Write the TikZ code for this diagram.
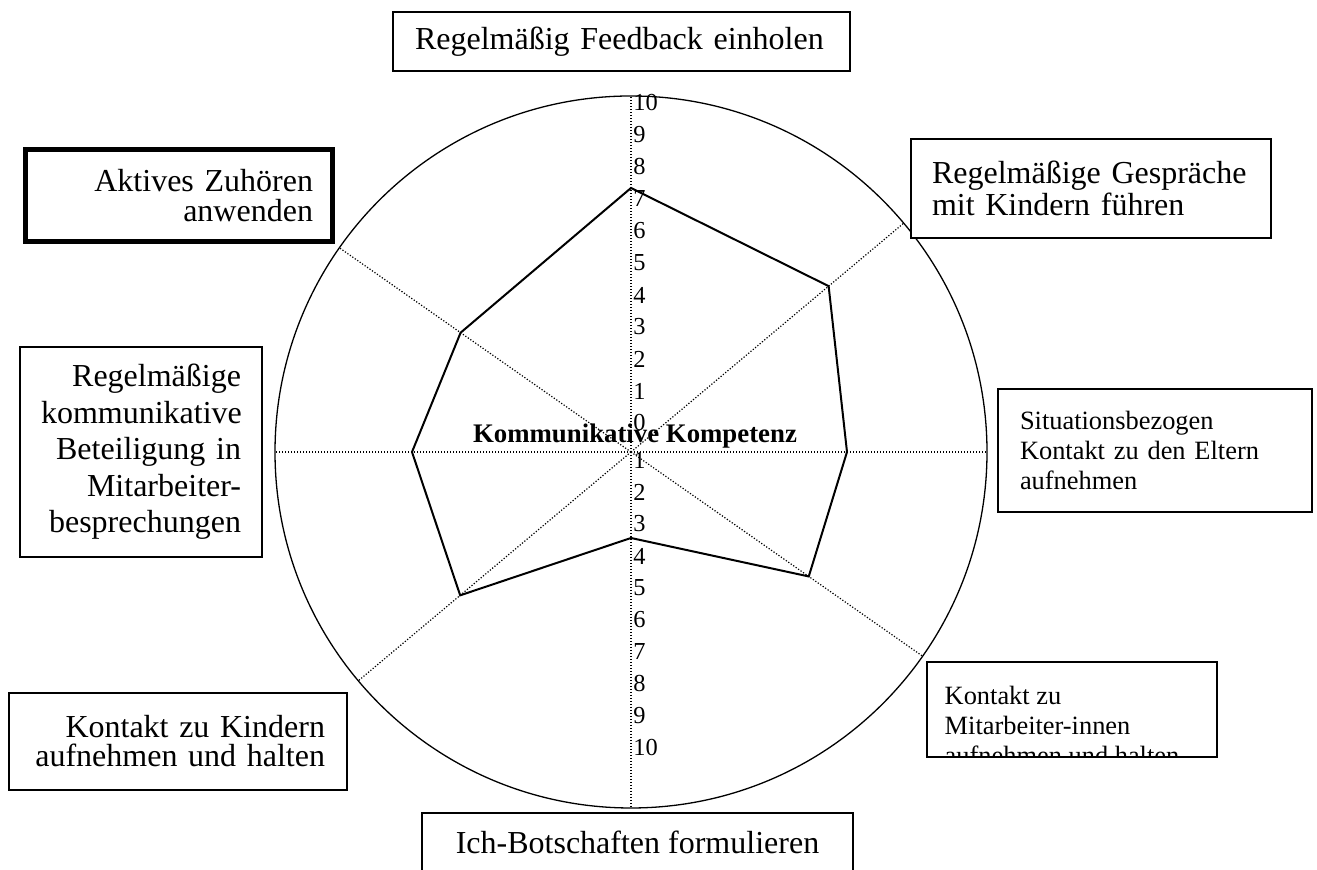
\documentclass[tikz,border=0pt]{standalone}
\usepackage{fontspec}
\setmainfont{Liberation Serif}
\usepackage{xcolor}
\definecolor{cInk}{HTML}{000000}
\usetikzlibrary{positioning,calc}
\tikzset{
  node-box/.style={draw=cInk,line width=0.7pt,fill=white,inner ysep=0pt,
    font=\fontsize{16}{#1}\selectfont,
    execute at begin node={\hyphenpenalty=10000\exhyphenpenalty=10000}},
  node-box/.default=16pt,
  node-small/.style={font=\fontsize{13.2}{15}\selectfont},
  node-num/.style={font=\fontsize{12.2}{14}\selectfont,inner sep=0pt,anchor=west},
  % Kreis, Achsen (gepunktet) und Profil
  rim/.style={draw=cInk,line width=0.65pt},
  axis-line/.style={draw=cInk,line width=0.6pt,dash pattern=on 0.6pt off 0.9pt},
  profile/.style={draw=cInk,line width=1pt,line join=miter},
}

\begin{document}
\begin{tikzpicture}[x=0.5pt,y=0.5pt]
  \clip (0,0) rectangle (1317,870);
  \coordinate (c) at (631,418);
  \draw[rim] (c) circle[radius=356];
  \foreach \a in {0,40,90,145,180,220,270,325}
    \draw[axis-line] (c) -- ++(\a:356);
  \path (c) ++(90:264) coordinate (p1)  (c) ++(40:258) coordinate (p2)
        (c) ++(0:216) coordinate (p3)   (c) ++(325:217) coordinate (p4)
        (c) ++(270:86) coordinate (p5)  (c) ++(220:223) coordinate (p6)
        (c) ++(180:219) coordinate (p7) (c) ++(145:208) coordinate (p8);
  \draw[profile] (p1) -- (p2) -- (p3) -- (p4) -- (p5) -- (p6) -- (p7) -- (p8) -- cycle;

  \foreach \i in {0,...,10}
    \node[node-num] (up-\i) at (633,447+32*\i) {\i};
  \foreach \i in {1,...,10}
    \node[node-num] (down-\i) at (633,442-32*\i) {\i};
  \node[font=\fontsize{13.4}{16}\selectfont\bfseries,inner sep=0pt] (title) at (635,434) {Kommunikative Kompetenz};

  \node[node-box,minimum width=228.5pt,minimum height=29.5pt,inner xsep=11pt,
    text width=206.5pt,align=left] (feedback) at (621.5,828.5) {Regelmäßig Feedback einholen};
  \node[node-box=16pt,minimum width=180pt,minimum height=49.5pt,inner xsep=10.5pt,
    text width=159pt,align=left] (gespraeche) at (1091,681.5) {Regelmäßige Gespräche\\mit Kindern führen};
  \node[node-box=15pt,line width=2.5pt,minimum width=153.5pt,minimum height=46pt,inner xsep=9.75pt,
    text width=134pt,align=right] (zuhoeren) at (179,674.5) {Aktives Zuhören\\anwenden};
  \node[node-box=18.3pt,minimum width=121pt,minimum height=105pt,inner xsep=10.5pt,
    text width=100pt,align=right] (besprechung) at (141,418)
    {Regelmäßige\\kommunikative\\Beteiligung in\\Mitarbeiter-\\besprechungen};
  \node[node-box=14.5pt,minimum width=169pt,minimum height=48.5pt,inner xsep=11pt,
    text width=147pt,align=right] (kinder) at (178,128.5) {Kontakt zu Kindern\\aufnehmen und halten};
  \node[node-box,minimum width=215.5pt,minimum height=29.5pt,align=center] (botschaften)
    at (637.5,27.5) {Ich-Botschaften formulieren};
  \node[node-box,node-small,minimum width=157pt,minimum height=61.5pt,inner xsep=11pt,
    text width=135pt,align=left] (eltern) at (1155,419.5)
    {Situationsbezogen\\Kontakt zu den Eltern\\aufnehmen};
  \node[node-box,minimum width=145pt,minimum height=47.5pt] (kollegen) at (1072,160.5) {};
  \begin{scope}
    \clip ([shift={(2,2)}]kollegen.south west) rectangle ([shift={(-2,-2)}]kollegen.north east);
    \node[node-small,inner sep=0pt,align=left,anchor=north west] (kollegen-text)
      at ([shift={(18,-24)}]kollegen.north west) {Kontakt zu\\Mitarbeiter-innen\\aufnehmen und halten};
  \end{scope}
\end{tikzpicture}
\end{document}
